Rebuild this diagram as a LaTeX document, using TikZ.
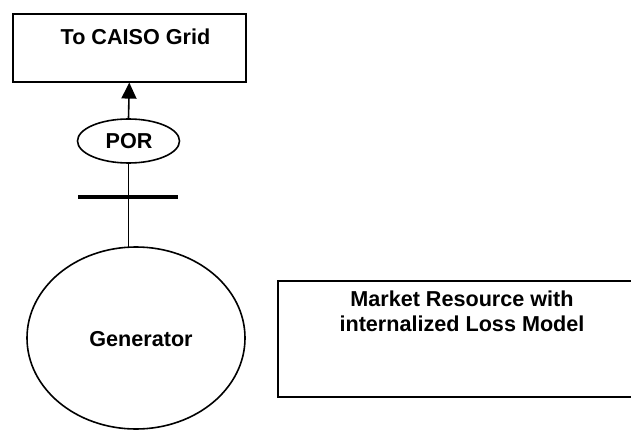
\documentclass[tikz,border=0pt]{standalone}
\usepackage{fontspec}
\setmainfont{Liberation Sans}
\usetikzlibrary{arrows.meta,shapes.geometric}
\begin{document}
\begin{tikzpicture}[x=1pt,y=-1pt,
  lbl/.style={font=\fontsize{21.6}{25}\selectfont\bfseries, inner sep=0pt, align=center},
  boxline/.style={draw=black, line width=1.6pt},
  conn/.style={draw=black, line width=1.6pt}]
\useasboundingbox (0,0) rectangle (631,430);
% top box
\node[boxline, rectangle, minimum width=233pt, minimum height=68pt, anchor=north west, inner sep=0pt] (grid) at (12,13) {};
\node[lbl, anchor=base] (gridtxt) at (135.5,45) {To CAISO Grid};
% POR
\node[boxline, ellipse, minimum width=102pt, minimum height=44pt, inner sep=0pt] (por) at (128.5,141) {};
\node[lbl] (portxt) at (129,141) {POR};
% generator
\node[boxline, ellipse, minimum width=218pt, minimum height=182pt, inner sep=0pt] (gen) at (136,338) {};
\node[lbl] (gentxt) at (141,339) {Generator};
% bar
\coordinate (barL) at (78,197);
\coordinate (barR) at (178,197);
\draw[line width=4.3pt] (barL) -- (barR);
% connectors
\coordinate (gentop) at (128.5,247.5);
\draw[conn, -{Triangle[length=16pt,width=15pt]}] (por.north) -- (grid.south);
\draw[conn] (por.south) -- (gentop);
% market resource box
\draw[boxline] (640,281) -| (278,397) -- (640,397);
\node[lbl] (mkt) at (462,311) {Market Resource with\\internalized Loss Model};
\end{tikzpicture}
\end{document}
